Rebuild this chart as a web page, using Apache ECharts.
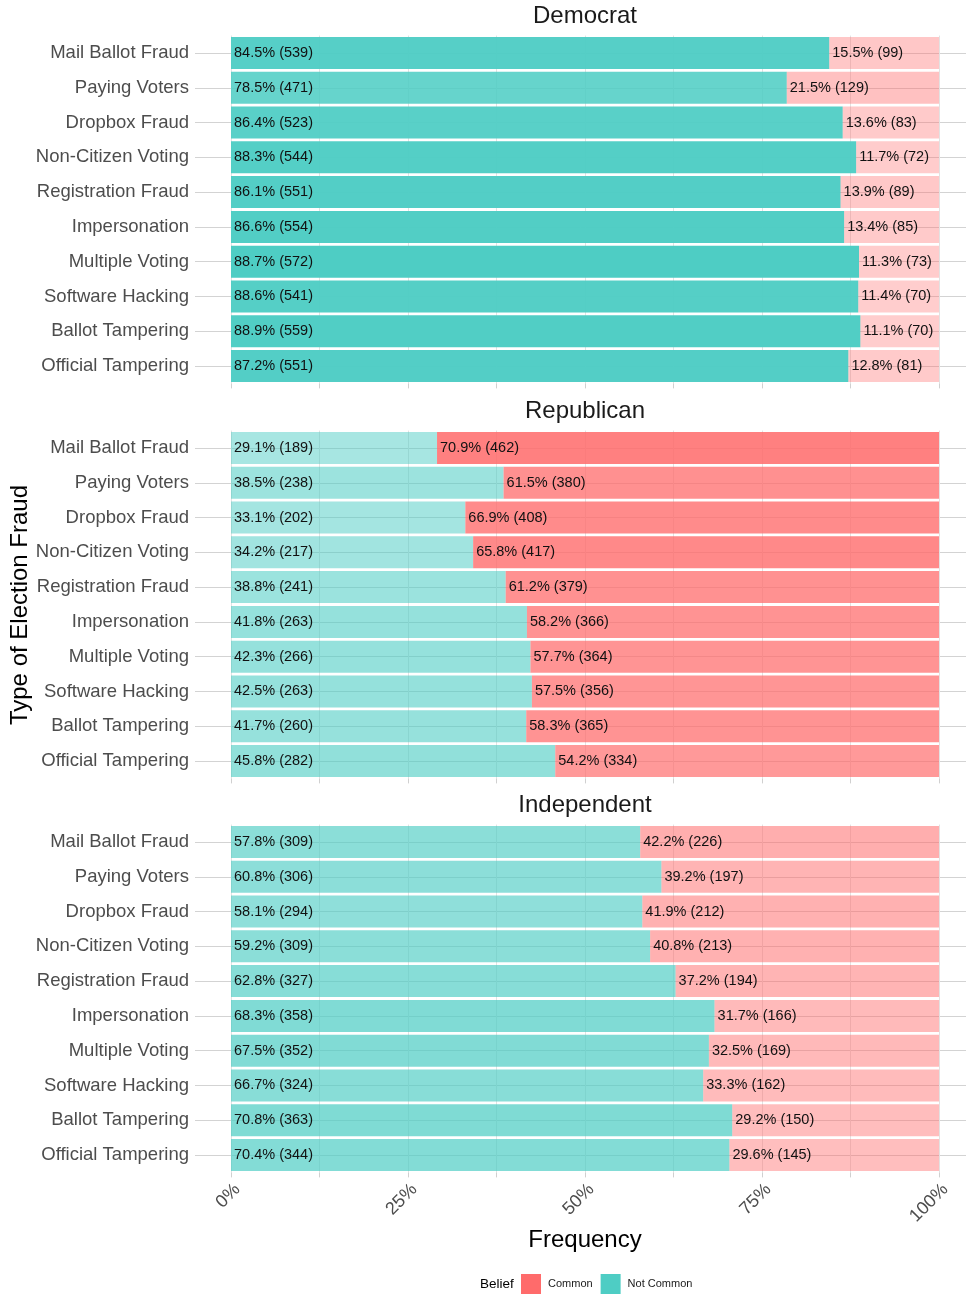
<!DOCTYPE html>
<html>
<head>
<meta charset="utf-8">
<script src="https://cdn.jsdelivr.net/npm/echarts@6/dist/echarts.min.js"></script>
<style>
html, body { margin: 0; padding: 0; background: #fff; }
#main { width: 966px; height: 1295px; }
</style>
</head>
<body>
<div id="main"></div>
<script>
const categories = ['Mail Ballot Fraud', 'Paying Voters', 'Dropbox Fraud', 'Non-Citizen Voting',
  'Registration Fraud', 'Impersonation', 'Multiple Voting', 'Software Hacking',
  'Ballot Tampering', 'Official Tampering'];
const parties = ['Democrat', 'Republican', 'Independent'];
const xTickLabels = [0, 25, 50, 75, 100];

// Democrat
const demNotCommonPct = [84.5, 78.5, 86.4, 88.3, 86.1, 86.6, 88.7, 88.6, 88.9, 87.2];
const demNotCommonN = [539, 471, 523, 544, 551, 554, 572, 541, 559, 551];
const demCommonPct = [15.5, 21.5, 13.6, 11.7, 13.9, 13.4, 11.3, 11.4, 11.1, 12.8];
const demCommonN = [99, 129, 83, 72, 89, 85, 73, 70, 70, 81];
// Republican
const repNotCommonPct = [29.1, 38.5, 33.1, 34.2, 38.8, 41.8, 42.3, 42.5, 41.7, 45.8];
const repNotCommonN = [189, 238, 202, 217, 241, 263, 266, 263, 260, 282];
const repCommonPct = [70.9, 61.5, 66.9, 65.8, 61.2, 58.2, 57.7, 57.5, 58.3, 54.2];
const repCommonN = [462, 380, 408, 417, 379, 366, 364, 356, 365, 334];
// Independent
const indNotCommonPct = [57.8, 60.8, 58.1, 59.2, 62.8, 68.3, 67.5, 66.7, 70.8, 70.4];
const indNotCommonN = [309, 306, 294, 309, 327, 358, 352, 324, 363, 344];
const indCommonPct = [42.2, 39.2, 41.9, 40.8, 37.2, 31.7, 32.5, 33.3, 29.2, 29.6];
const indCommonN = [226, 197, 212, 213, 194, 166, 169, 162, 150, 145];

const FONT = '"Liberation Sans", Arial, Helvetica, sans-serif';
const TEAL = [78, 205, 196];
const RED = [255, 107, 107];

const panels = [
  { nc: demNotCommonPct, ncN: demNotCommonN, c: demCommonPct, cN: demCommonN },
  { nc: repNotCommonPct, ncN: repNotCommonN, c: repCommonPct, cN: repCommonN },
  { nc: indNotCommonPct, ncN: indNotCommonN, c: indCommonPct, cN: indCommonN },
];

// fill transparency follows the count, like the alpha scale of the original
const maxN = Math.max(...panels.flatMap(p => p.ncN.concat(p.cN)));
const alphaOf = n => 0.25 + 0.75 * n / maxN;
const rgba = (c, a) => 'rgba(' + c.join(',') + ',' + a.toFixed(3) + ')';

const band = 34.78;
const panelTops = [35.6, 430.6, 824.6];

const grids = [];
const xAxes = [];
const yAxes = [];
const series = [];

panelTops.forEach((top, i) => {
  grids.push({ left: 231, right: 27, top: top, height: band * 10 });
  xAxes.push({
    type: 'value', gridIndex: i, min: 0, max: 100, interval: 12.5,
    axisLine: { show: false },
    axisTick: { show: true, length: 5, lineStyle: { color: '#d0d0d0' } },
    splitLine: { show: true, lineStyle: { color: '#e2e2e2', width: 1 } },
    axisLabel: {
      show: i === 2, rotate: 45, fontSize: 18, color: '#4d4d4d', fontFamily: FONT, margin: 8,
      verticalAlign: 'top',
      formatter: v => xTickLabels.includes(v) ? v + '%' : '',
    },
  });
  yAxes.push({
    type: 'category', gridIndex: i, data: categories, inverse: true,
    axisLine: { show: false }, axisTick: { show: false }, splitLine: { show: false },
    axisLabel: { fontSize: 18.5, color: '#4d4d4d', fontFamily: FONT, margin: 42 },
  });
});

// horizontal grid lines through category centres, a bit wider than the bars
panelTops.forEach((top, i) => {
  grids.push({ left: 195, right: 0, top: top + band / 2, height: band * 9 });
  xAxes.push({ type: 'value', gridIndex: 3 + i, show: false, min: 0, max: 1 });
  yAxes.push({
    type: 'value', gridIndex: 3 + i, min: 0, max: 9, interval: 1, inverse: true,
    axisLine: { show: false }, axisTick: { show: false }, axisLabel: { show: false },
    splitLine: { show: true, lineStyle: { color: '#d3d3d3', width: 1 } },
  });
});

panels.forEach((p, i) => {
  const mk = (name, pct, cnt, color) => ({
    name: name, type: 'bar', xAxisIndex: i, yAxisIndex: i, stack: 'p' + i,
    barCategoryGap: '8%',
    itemStyle: { color: rgba(color, 1) },
    data: pct.map((v, k) => ({ value: v, itemStyle: { color: rgba(color, alphaOf(cnt[k])) } })),
    label: {
      show: true, position: 'insideLeft', distance: 3, color: '#111', fontSize: 14.5, fontFamily: FONT,
      formatter: prm => pct[prm.dataIndex].toFixed(1) + '% (' + cnt[prm.dataIndex] + ')',
    },
    emphasis: { disabled: true },
  });
  series.push(mk('Not Common', p.nc, p.ncN, TEAL));
  series.push(mk('Common', p.c, p.cN, RED));
});

const graphics = parties.map((t, i) => ({
  type: 'text', x: 585, y: [16, 411, 805][i],
  style: { text: t, fontSize: 24, fontFamily: FONT, fill: '#1a1a1a', align: 'center', verticalAlign: 'middle' },
}));
graphics.push({
  type: 'text', x: 585, y: 1240,
  style: { text: 'Frequency', fontSize: 24, fontFamily: FONT, fill: '#000', align: 'center', verticalAlign: 'middle' },
});
graphics.push({
  type: 'text', x: 20, y: 605, rotation: Math.PI / 2,
  style: { text: 'Type of Election Fraud', fontSize: 24, fontFamily: FONT, fill: '#000', align: 'center', verticalAlign: 'middle' },
});
graphics.push({
  type: 'text', x: 480, y: 1284,
  style: { text: 'Belief', fontSize: 13.5, fontFamily: FONT, fill: '#000', align: 'left', verticalAlign: 'middle' },
});

const myChart = echarts.init(document.getElementById('main'));
myChart.setOption({
  animation: false,
  backgroundColor: '#fff',
  grid: grids,
  xAxis: xAxes,
  yAxis: yAxes,
  series: series,
  legend: {
    data: ['Common', 'Not Common'],
    left: 516, top: 1269,
    icon: 'rect', itemWidth: 20, itemHeight: 20, itemGap: 8,
    textStyle: { fontSize: 11, color: '#1a1a1a', fontFamily: FONT, padding: [0, 0, 0, 2] },
  },
  graphic: graphics,
});
</script>
</body>
</html>
